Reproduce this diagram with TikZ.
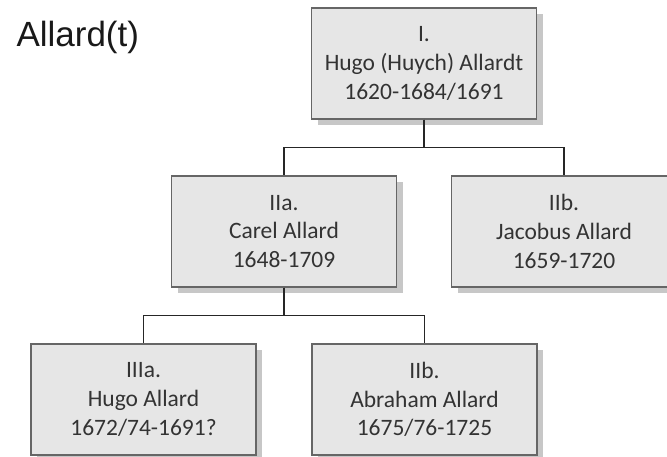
\documentclass[tikz,border=0pt]{standalone}
\usepackage{fontspec}
\setmainfont{Carlito}
\newfontfamily\titlefont{Liberation Sans}
\usetikzlibrary{trees,shadows}
\definecolor{boxfill}{HTML}{E6E6E6}
\begin{document}
\begin{tikzpicture}[x=1pt, y=1pt,
            level distance=168pt,
            level 1/.style={sibling distance=280pt},
            level 2/.style={sibling distance=281pt},
            box/.style={draw=black!60, line width=1.2pt, fill=boxfill,
                minimum width=225pt, minimum height=111pt, align=center,
                text=black!80, font=\fontsize{23.5}{28.7}\selectfont,
                drop shadow={shadow xshift=6pt, shadow yshift=-6pt,
                    fill=black!22, opacity=1}},
            edge from parent/.style={draw, line width=1.3pt, black!85},
            edge from parent path={(\tikzparentnode.south) -- ++(0,-28pt)
                -| (\tikzchildnode.north)}]
            \useasboundingbox (0,0) rectangle (667,-456);
            \clip (0,0) rectangle (667,-456);
            \node[anchor=base west, text=black!90,
                font=\titlefont\fontsize{35}{40}\selectfont] (title) at (13,-46) {Allard(t)};
            \node[box] (hugo) at (424,-63.5) {I.\\ Hugo (Huych) Allardt\\ 1620-1684/1691}
            child { node[box] (carel) {IIa.\\ Carel Allard\\ 1648-1709}
                child { node[box] (hugojr) {IIIa.\\ Hugo Allard\\ 1672/74-1691?} }
                child { node[box] (abraham) {IIb.\\ Abraham Allard\\ 1675/76-1725} }
            }
            child { node[box] (jacobus) {IIb.\\ Jacobus Allard\\ 1659-1720} };
        \end{tikzpicture}
\end{document}
